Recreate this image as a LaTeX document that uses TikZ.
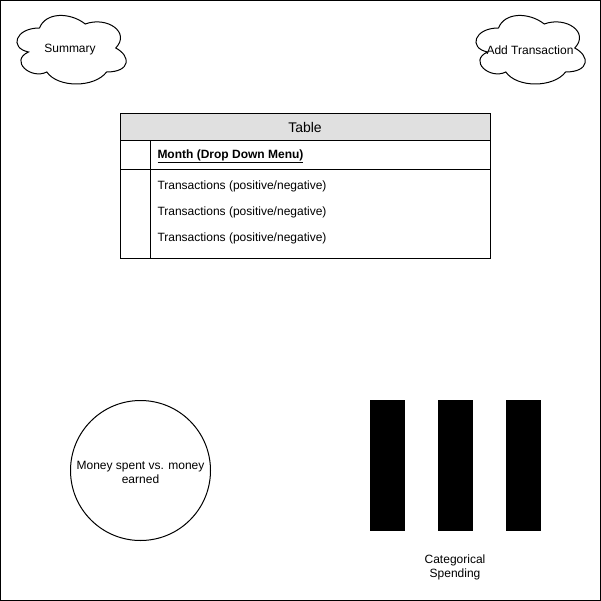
\documentclass[tikz,border=0pt]{standalone}
\usepackage{fontspec}
\setmainfont{Liberation Sans}
\usepackage{tikz}
\usetikzlibrary{positioning}

\definecolor{headgray}{RGB}{224,224,224}

% cloud outline in a w x h box, top left corner at (#1,#2)
\newcommand{\cloudpath}[4]{%
\draw[line width=1pt,fill=white,shift={(#1,#2)},x=#3pt,y=-#4pt]
 (0.25,0.25) .. controls (0.05,0.25) and (0,0.5) .. (0.16,0.55)
 .. controls (0,0.66) and (0.18,0.9) .. (0.31,0.8)
 .. controls (0.4,1) and (0.7,1) .. (0.8,0.8)
 .. controls (1,0.8) and (1,0.6) .. (0.875,0.5)
 .. controls (1,0.3) and (0.8,0.1) .. (0.625,0.2)
 .. controls (0.5,0.05) and (0.3,0.05) .. (0.25,0.25) -- cycle;}

\begin{document}
\begin{tikzpicture}[x=1pt,y=-1pt,line width=1pt,
                    every node/.style={font=\fontsize{12}{14}\selectfont},
                    cell/.style={draw,anchor=north west,minimum width=370pt,inner sep=0pt,outer sep=0pt},
                    bar/.style={fill=black,minimum width=35pt,minimum height=131pt,inner sep=0pt}]
\useasboundingbox (0,0) rectangle (601,601);
\draw (0.5,0.5) rectangle (600,600);

% clouds
\cloudpath{9}{8}{122}{80}
\node (summary) at (70,50) {Summary};
\cloudpath{468}{8}{122}{80}
\node (addtrans) at (530,50) {Add Transaction};

% table
\node[cell,fill=headgray,minimum height=27pt,font=\fontsize{14}{16}\selectfont] (head) at (120,113.5) {Table};
\node[cell,minimum height=29.5pt] (month) at (head.south west) {};
\node[cell,minimum height=88pt] (list) at (month.south west) {};
\draw ([xshift=30pt]month.north west) -- ([xshift=30pt]list.south west);
\node[anchor=west,inner sep=0pt] (monthtxt) at ([xshift=37pt,yshift=-1pt]month.west) {\underline{\textbf{Month (Drop Down Menu)}}};
\node[anchor=west,inner sep=0pt] (trans1) at (157,186) {Transactions (positive/negative)};
\node[anchor=west,inner sep=0pt] (trans2) at (157,212) {Transactions (positive/negative)};
\node[anchor=west,inner sep=0pt] (trans3) at (157,238) {Transactions (positive/negative)};

% pie
\node[draw,circle,minimum size=140pt,align=center,inner sep=0pt] (pie) at (140.5,470.5) {};
\node[align=center,inner sep=0pt] (pietxt) at (140.5,472.5) {Money spent vs. money\\earned};

% bars
\node[bar] (bar1) at (387.5,465.5) {};
\node[bar] (bar2) at (455.5,465.5) {};
\node[bar] (bar3) at (523.5,465.5) {};
\node[align=center,inner sep=0pt] (catlabel) at (455,567.5) {Categorical\\Spending};
\end{tikzpicture}
\end{document}
